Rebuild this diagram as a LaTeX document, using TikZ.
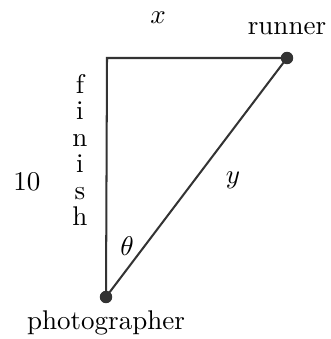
\documentclass[tikz,border=0pt]{standalone}
\usepackage{amsmath}
\usepackage{xcolor}
\usetikzlibrary{positioning}

\tikzset{
    spot/.style = {circle, fill = black!80, inner sep = 0pt, minimum size = 4.6pt},
    side/.style = {line width = 0.75pt, draw = black!80}
}

\begin{document}
\begin{tikzpicture}[x = 0.013cm, y = -0.013cm, font = \normalsize]
    \useasboundingbox (0,0) rectangle (330,339);

    % the three corners
    \node[spot] (photo) at (106,297) {};
    \node[spot] (runner) at (287,58) {};
    \coordinate (corner) at (107,58);

    \draw[side] (photo.center) -- (corner) -- (runner.center);
    \draw[side] (runner.center) -- (photo.center);

    \node (lblrunner) at (287,29) {runner};
    \node (lblphoto) at (106,323) {photographer};
    \node (lblx) at (158,18) {$x$};
    \node (lbly) at (233,180) {$y$};
    \node (lbltheta) at (127,246) {$\theta$};
    \node (lblten) at (27,182) {10};
    \node[align = center, font = \fontsize{10}{9.8}\selectfont] (lblfinish) at (80,150)
        {f\\i\\n\\i\\s\\h};

\end{tikzpicture}
\end{document}
